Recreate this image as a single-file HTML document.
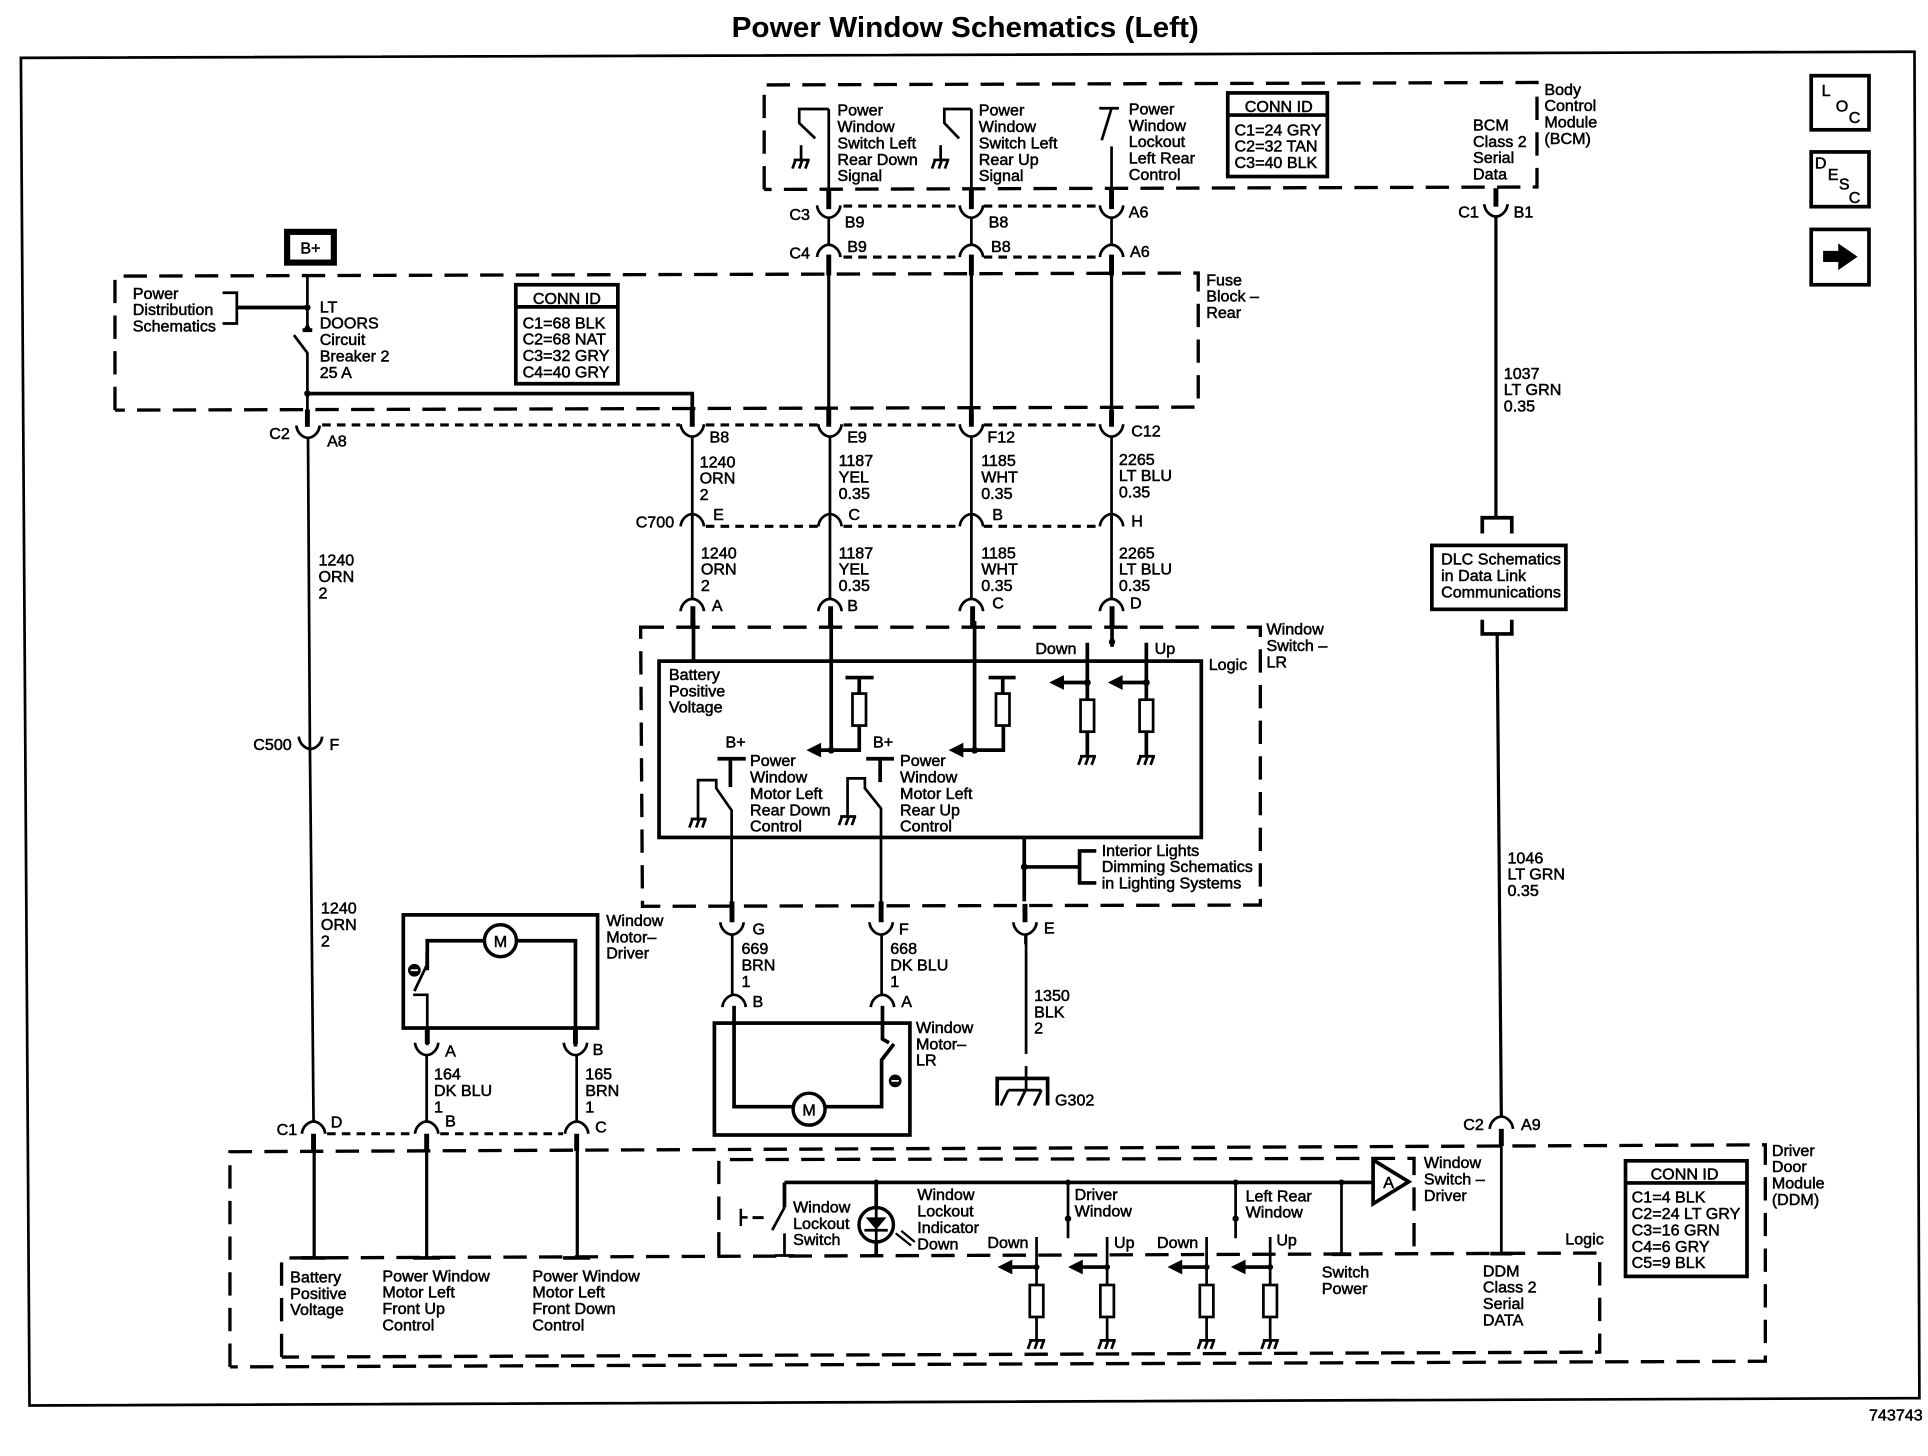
<!DOCTYPE html>
<html><head><meta charset="utf-8"><title>Power Window Schematics (Left)</title>
<style>
html,body{margin:0;padding:0;background:#fff}
svg{display:block}
text{font-family:"Liberation Sans",Arial,sans-serif;font-size:13.1px;fill:#000;stroke:#000;stroke-width:.42}
.w{fill:none;stroke:#000;stroke-width:2.2}
.a{fill:none;stroke:#000;stroke-width:2.6}
.t{fill:none;stroke:#000;stroke-width:3}
.d{fill:none;stroke:#000;stroke-width:2.7;stroke-dasharray:19 10}
.o{fill:none;stroke:#000;stroke-width:2.5;stroke-dasharray:7 5}
.r{fill:#fff;stroke:#000;stroke-width:2.2}
</style></head><body>
<svg xmlns="http://www.w3.org/2000/svg" width="1928" height="1456" viewBox="0 0 1568 1184">
<defs>
<g id="u"><path class="w" d="M-9.5 -10C-9 -4 -4 0 0 0C4 0 9 -4 9.5 -10"/></g>
<g id="n"><path class="w" d="M-9.5 10C-9 4 -4 0 0 0C4 0 9 4 9.5 10"/></g>
<g id="g"><path class="w" d="M-6 0H7M-7 7L-4.5 0M-1.5 7L1 0M3.5 7L6 0"/></g>
<g id="res"><rect class="r" x="-5.5" y="0" width="11" height="26"/></g>
<g id="al"><path d="M0 0L12 -6V6Z"/></g>
</defs>
<rect width="1568" height="1184" fill="#fff"/>
<text x="595" y="30" font-weight="700" textLength="380" lengthAdjust="spacingAndGlyphs" style="font-size:23.5px;font-weight:700;stroke:none">Power Window Schematics (Left)</text>
<path class="w" d="M17 47L1557 42L1561 1137L24 1143Z"/>

<!-- dashed module boxes -->
<path class="d" d="M621.5 154V69L1250 67V152L621.5 154"/>
<path class="d" d="M93.5 333.5V224.5L974.5 222V331L93.5 333.5"/>
<path class="d" d="M521 510H1025V736L522.5 737Z"/>
<path class="d" d="M187 1111.6V936.6L1435.7 931V1107L187 1111.6"/>
<path class="d" d="M229 1103.6V1023L1301 1019V1099.6L229 1103.6"/>
<path class="d" d="M584.6 1021V943L1150 942V1020.6"/>

<!-- BCM switches -->
<path class="w" d="M674 88.6H650V100L663 112.5"/>
<path class="w" d="M651.5 118V130"/><use href="#g" x="651.5" y="130"/>
<path class="w" d="M790 88.6H768V100L780 112.5"/>
<path class="w" d="M765 118V130"/><use href="#g" x="765" y="130"/>
<path class="w" d="M894 88H910M904 88L896 114"/>
<path class="w" d="M674 88.6V168M790 88.6V168M904 119V168M674 177V199M790 177V199M904 177V199"/>
<path class="t" stroke-width="4" style="stroke-width:4" d="M674 153V170M790 153V170M904 153V170"/>
<use href="#u" x="674" y="177"/><use href="#u" x="790" y="177"/><use href="#u" x="904" y="177"/>
<use href="#n" x="674" y="199"/><use href="#n" x="790" y="199"/><use href="#n" x="904" y="199"/>
<path class="o" d="M686 167.5H780M800 167.5H894M686 209H780M800 209H894"/>
<path class="t" style="stroke-width:4" d="M674 207V224M790 207V224M904 207V224"/>
<path class="a" d="M674 224V335M790 224V335M904 224V335"/>
<path class="t" style="stroke-width:4" d="M674 333V347M790 333V347M904 333V347M563 333V347M250 333V347"/>

<!-- B+ and breaker -->
<rect x="233.5" y="188.5" width="38" height="25" fill="#fff" stroke="#000" stroke-width="5"/>
<text x="252.5" y="206" text-anchor="middle">B+</text>
<path class="w" d="M250 224V268M239 272.4L250 287V347"/>
<path d="M250 262L254 270H246Z"/><path class="w" d="M246 268H254"/>
<path class="w" d="M181 238H192.6V263H181"/><path class="t" d="M192 250H250"/>
<circle cx="250" cy="250" r="2.6"/><circle cx="250" cy="320" r="2.6"/>
<path class="t" d="M250 320H563V345"/>
<path class="w" d="M250.5 355L252 603L253 700L255 912M563 355V423M675 355V423M790 355V423M904 355V423"/>
<use href="#u" x="250.5" y="356"/><use href="#u" x="563" y="355"/><use href="#u" x="675" y="355"/><use href="#u" x="790" y="355"/><use href="#u" x="904" y="355"/>
<path class="o" d="M262 345.5H553M574 345.5H665M686 345.5H780M800 345.5H894"/>

<!-- C700 -->
<use href="#n" x="563" y="418"/><use href="#n" x="675" y="418"/><use href="#n" x="790" y="418"/><use href="#n" x="904" y="418"/>
<path class="o" d="M574 428H665M686 428H780M800 428H894"/>
<path class="w" d="M563 420V488M675 420V488M790 420V488M904 420V488"/>
<use href="#n" x="563" y="487"/><use href="#n" x="675" y="487"/><use href="#n" x="790" y="487"/><use href="#n" x="904" y="487"/>
<path class="t" style="stroke-width:4" d="M563.5 493V510M675.5 493V510M791 493V510M904.4 493V510"/>
<!-- C500 -->
<use href="#u" x="252.5" y="609"/>

<!-- Window Switch LR -->
<rect class="t" x="536" y="537.6" width="441" height="143.4"/>
<path class="t" d="M564 505V537.6M676 505V610M792.6 505V610"/>
<path class="t" d="M904.4 505V526"/><circle cx="904.4" cy="522" r="2.6"/>
<path class="t" d="M884.3 522.7V615M932.3 522.7V615"/>
<path class="t" d="M687.6 551H710.5M698.8 551V564M698.8 590V610H667M804 551H826M815.5 551V564M816 590V610H783"/>
<use href="#res" x="698.8" y="564"/><use href="#res" x="815.5" y="564"/>
<use href="#res" x="884.3" y="569"/><use href="#res" x="932.3" y="569"/>
<use href="#al" x="655.8" y="610"/><use href="#al" x="771.5" y="610"/><use href="#al" x="853.3" y="555"/><use href="#al" x="901" y="555"/>
<path class="t" d="M864 555H884.3M911 555H932.3"/>
<circle cx="676" cy="610" r="2.8"/><circle cx="792.6" cy="610" r="2.8"/><circle cx="884.3" cy="555" r="2.8"/><circle cx="932.3" cy="555" r="2.8"/>
<use href="#g" x="884.3" y="615"/><use href="#g" x="932.3" y="615"/>
<path class="t" d="M583.5 617H606.5M594 617V640M704.5 617H727M715.8 617V636"/>
<path class="w" d="M567.7 667V634.4H582.5V641L595 659V740M689.3 664V633H703.4V641L716.5 657.4V740"/>
<use href="#g" x="567.7" y="666"/><use href="#g" x="689.3" y="664"/>
<path class="t" d="M833 681V733"/><circle cx="833" cy="705" r="2.8"/>
<path class="t" d="M833 705H878M891.6 692H878V718H891.6"/>
<path class="t" style="stroke-width:4" d="M595.3 733V750M716.6 733V750M833.6 735V750"/>
<use href="#u" x="595.3" y="760"/><use href="#u" x="716.6" y="760"/><use href="#u" x="833.6" y="760"/>
<path class="w" d="M595.5 760V810M717 760V810M834 760V768"/>
<path class="w" d="M834.5 760V857M834.5 867V887"/>
<path class="t" d="M811 899V877H852V899"/>
<path class="w" d="M820 886.5H847M820 886.5L814 899M834 886.5L828 899M847 886.5L841 899"/>

<use href="#n" x="597" y="809"/><use href="#n" x="717.7" y="809"/>

<!-- Window Motor LR -->
<rect class="t" x="581" y="832" width="159" height="91"/>
<path class="t" d="M597 818V900H645M671 900H717V862L727 849M717.7 818V845L723 848"/>
<circle cx="658" cy="902" r="13" fill="#fff" stroke="#000" stroke-width="2.8"/>
<text x="658" y="907" text-anchor="middle">M</text>
<circle cx="728" cy="879" r="5.2"/><path stroke="#fff" stroke-width="1.4" d="M725 879H731"/>

<!-- Window Motor Driver -->
<rect class="t" x="328" y="744" width="158" height="92"/>
<path class="t" d="M347.5 789V765H394M420 765H468V851"/>
<path class="w" d="M347 775V785L337 806M336 809H347.5V850"/>
<circle cx="407" cy="765" r="13" fill="#fff" stroke="#000" stroke-width="2.8"/>
<text x="407" y="770" text-anchor="middle">M</text>
<circle cx="337" cy="789" r="5.2"/><path stroke="#fff" stroke-width="1.4" d="M334 789H340"/>
<path class="t" style="stroke-width:4" d="M347.5 836V849M468 836V849"/>
<use href="#u" x="347" y="858"/><use href="#u" x="468" y="858"/>
<path class="w" d="M347 858V912M469 858V912"/>

<!-- C1 row -->
<use href="#n" x="255" y="912"/><use href="#n" x="347" y="912"/><use href="#n" x="469" y="912"/>
<path class="o" d="M266 922H336M358 922H458"/>
<path class="t" style="stroke-width:4" d="M255 922V936M347 922V936M469 922V936"/>
<path class="a" d="M255.5 936V1023M347 936V1023M469.5 936V1023"/>
<path class="t" d="M245 1023H265M336 1023H358M458 1023H480"/>

<!-- Window Switch Driver inner -->
<path class="t" d="M638 961.6H1116.7M638 961.6V982"/>
<path class="w" d="M638 982L628 1000.4M638 1003V1021M630 1021H646"/>
<path d="M601.5 983h2v14h-2zM603 989h5v2h-5zM612 989h9v2.4h-9z"/>
<circle cx="712.6" cy="961.6" r="2.4"/><circle cx="868.6" cy="961.6" r="2.4"/><circle cx="1004.9" cy="961.6" r="2.4"/><circle cx="1091" cy="961.6" r="2.4"/>
<path class="t" d="M712.6 961.6V1021"/>
<circle cx="712.6" cy="996" r="14" fill="#fff" stroke="#000" stroke-width="2.8"/>
<path class="w" d="M712.6 982V1010M703 1000.5H722"/><path d="M704 990H721L712.6 1000Z"/>
<path class="w" style="stroke-width:1.8" d="M728.5 1003L741 1013M733 1001L744 1010"/>
<path class="w" d="M868.6 961.6V1007M1004.9 961.6V1007M1091 961.6V1020"/>
<circle cx="868.6" cy="991" r="2.6"/><circle cx="1004.9" cy="991" r="2.6"/>
<path d="M1116.7 943.3L1145.7 961L1116.7 979Z" fill="#fff" stroke="#000" stroke-width="3"/>
<text x="1125" y="966">A</text>
<path class="t" d="M1083 1020H1099"/>

<!-- Down/Up lower -->
<path class="w" d="M843 1006V1090M900.4 1006V1090M981.3 1006V1090M1033 1006V1090"/>
<use href="#res" x="843" y="1045"/><use href="#res" x="900.4" y="1045"/><use href="#res" x="981.3" y="1045"/><use href="#res" x="1033" y="1045"/>
<use href="#g" x="843" y="1090"/><use href="#g" x="900.4" y="1090"/><use href="#g" x="981.3" y="1090"/><use href="#g" x="1033" y="1090"/>
<path class="t" d="M820 1030.4H843M878 1030.4H900.4M959 1030.4H981.3M1011 1030.4H1033"/>
<use href="#al" x="811.3" y="1030.4"/><use href="#al" x="868.6" y="1030.4"/><use href="#al" x="949.5" y="1030.4"/><use href="#al" x="1001" y="1030.4"/>
<circle cx="843" cy="1030.4" r="2.4"/><circle cx="900.4" cy="1030.4" r="2.4"/><circle cx="981.3" cy="1030.4" r="2.4"/><circle cx="1033" cy="1030.4" r="2.4"/>

<!-- BCM data wire -->
<path class="t" style="stroke-width:4" d="M1216.6 153V168"/>
<use href="#u" x="1216.6" y="176"/>
<path class="a" d="M1216.6 176V421"/>
<path class="t" d="M1205.5 433.8V421H1229.5V433.8"/>
<rect class="t" x="1164.5" y="443.5" width="109" height="52"/>
<path class="t" d="M1205.5 504V515.5H1229.5V504"/>
<path class="a" d="M1217.6 515.5L1221 908"/>
<use href="#n" x="1221" y="908"/>
<path class="t" style="stroke-width:4" d="M1221 918V932"/>
<path class="w" d="M1221 932V1019"/>
<path class="t" d="M1212 1019.5H1230"/>

<!-- Conn ID tables -->
<rect class="t" x="419.5" y="231.5" width="83" height="80.5" fill="#fff"/><path class="t" d="M419.5 249.5H502.5"/>
<rect class="t" x="998.5" y="75.5" width="81" height="68"/><path class="t" d="M998.5 93.5H1079.5"/>
<rect class="t" x="1322" y="944" width="98.8" height="94"/><path class="t" d="M1322 962H1420.8"/>

<!-- nav icons -->
<rect class="t" x="1473" y="61.5" width="47" height="44"/>
<rect class="t" x="1473" y="123.5" width="47" height="44.5"/>
<rect class="t" x="1473" y="186.5" width="47" height="45"/>
<path d="M1482.7 204H1495V197.9L1510.7 208.7L1495 219.6V213H1482.7Z"/>
<text x="1481.5" y="78">L</text><text x="1493" y="90.5">O</text><text x="1503.5" y="100">C</text>
<text x="1476" y="137">D</text><text x="1486.5" y="146.5">E</text><text x="1495.5" y="154">S</text><text x="1503.5" y="165">C</text>

<!-- Text -->
<text><tspan x="681" y="94">Power</tspan><tspan x="681" y="107.3">Window</tspan><tspan x="681" y="120.6">Switch Left</tspan><tspan x="681" y="134">Rear Down</tspan><tspan x="681" y="147.3">Signal</tspan></text>
<text><tspan x="796" y="94">Power</tspan><tspan x="796" y="107.3">Window</tspan><tspan x="796" y="120.6">Switch Left</tspan><tspan x="796" y="134">Rear Up</tspan><tspan x="796" y="147.3">Signal</tspan></text>
<text><tspan x="918" y="93">Power</tspan><tspan x="918" y="106.3">Window</tspan><tspan x="918" y="119.6">Lockout</tspan><tspan x="918" y="133">Left Rear</tspan><tspan x="918" y="146.3">Control</tspan></text>
<text><tspan x="1198" y="106">BCM</tspan><tspan x="1198" y="119.3">Class 2</tspan><tspan x="1198" y="132.6">Serial</tspan><tspan x="1198" y="146">Data</tspan></text>
<text><tspan x="1256" y="77">Body</tspan><tspan x="1256" y="90.3">Control</tspan><tspan x="1256" y="103.6">Module</tspan><tspan x="1256" y="117">(BCM)</tspan></text>
<text x="1040" y="91" text-anchor="middle">CONN ID</text>
<text><tspan x="1004" y="110">C1=24 GRY</tspan><tspan x="1004" y="123.3">C2=32 TAN</tspan><tspan x="1004" y="136.6">C3=40 BLK</tspan></text>
<text><tspan x="108" y="243">Power</tspan><tspan x="108" y="256.3">Distribution</tspan><tspan x="108" y="269.6">Schematics</tspan></text>
<text><tspan x="260" y="254">LT</tspan><tspan x="260" y="267.3">DOORS</tspan><tspan x="260" y="280.6">Circuit</tspan><tspan x="260" y="294">Breaker 2</tspan><tspan x="260" y="307.3">25 A</tspan></text>
<text x="461" y="247" text-anchor="middle">CONN ID</text>
<text><tspan x="425" y="267">C1=68 BLK</tspan><tspan x="425" y="280.3">C2=68 NAT</tspan><tspan x="425" y="293.6">C3=32 GRY</tspan><tspan x="425" y="307">C4=40 GRY</tspan></text>
<text><tspan x="981" y="232">Fuse</tspan><tspan x="981" y="245.3">Block –</tspan><tspan x="981" y="258.6">Rear</tspan></text>
<text x="642" y="179">C3</text><text x="687" y="185">B9</text><text x="804" y="185">B8</text><text x="918" y="177">A6</text>
<text x="642" y="210">C4</text><text x="689" y="205">B9</text><text x="806" y="205">B8</text><text x="919" y="209">A6</text>
<text x="219" y="357">C2</text><text x="266" y="363">A8</text><text x="577" y="360">B8</text><text x="689" y="360">E9</text><text x="803" y="360">F12</text><text x="920" y="355">C12</text>
<text x="517" y="429">C700</text><text x="580" y="423">E</text><text x="690" y="423">C</text><text x="807" y="423">B</text><text x="920" y="428">H</text>
<text x="579" y="497">A</text><text x="689" y="497">B</text><text x="807" y="495">C</text><text x="919" y="495">D</text>
<text x="206" y="610">C500</text><text x="268" y="610">F</text>
<text x="1186" y="177">C1</text><text x="1231" y="177">B1</text>
<text x="1190" y="919">C2</text><text x="1237" y="919">A9</text>
<text x="612" y="760">G</text><text x="731" y="760">F</text><text x="849" y="759">E</text>
<text x="612" y="819">B</text><text x="733" y="819">A</text>
<text x="362" y="859">A</text><text x="482" y="858">B</text>
<text x="225" y="923">C1</text><text x="269" y="917">D</text><text x="362" y="916">B</text><text x="484" y="921">C</text>

<text><tspan x="569" y="380">1240</tspan><tspan x="569" y="393.3">ORN</tspan><tspan x="569" y="406.6">2</tspan></text>
<text><tspan x="682" y="379">1187</tspan><tspan x="682" y="392.3">YEL</tspan><tspan x="682" y="405.6">0.35</tspan></text>
<text><tspan x="798" y="379">1185</tspan><tspan x="798" y="392.3">WHT</tspan><tspan x="798" y="405.6">0.35</tspan></text>
<text><tspan x="910" y="378">2265</tspan><tspan x="910" y="391.3">LT BLU</tspan><tspan x="910" y="404.6">0.35</tspan></text>
<text><tspan x="570" y="454">1240</tspan><tspan x="570" y="467.3">ORN</tspan><tspan x="570" y="480.6">2</tspan></text>
<text><tspan x="682" y="454">1187</tspan><tspan x="682" y="467.3">YEL</tspan><tspan x="682" y="480.6">0.35</tspan></text>
<text><tspan x="798" y="454">1185</tspan><tspan x="798" y="467.3">WHT</tspan><tspan x="798" y="480.6">0.35</tspan></text>
<text><tspan x="910" y="454">2265</tspan><tspan x="910" y="467.3">LT BLU</tspan><tspan x="910" y="480.6">0.35</tspan></text>
<text><tspan x="259" y="460">1240</tspan><tspan x="259" y="473.3">ORN</tspan><tspan x="259" y="486.6">2</tspan></text>
<text><tspan x="261" y="743">1240</tspan><tspan x="261" y="756.3">ORN</tspan><tspan x="261" y="769.6">2</tspan></text>
<text><tspan x="1223" y="308">1037</tspan><tspan x="1223" y="321.3">LT GRN</tspan><tspan x="1223" y="334.6">0.35</tspan></text>
<text><tspan x="1226" y="702">1046</tspan><tspan x="1226" y="715.3">LT GRN</tspan><tspan x="1226" y="728.6">0.35</tspan></text>
<text><tspan x="1172" y="459">DLC Schematics</tspan><tspan x="1172" y="472.3">in Data Link</tspan><tspan x="1172" y="486">Communications</tspan></text>
<text><tspan x="1030" y="516">Window</tspan><tspan x="1030" y="529.3">Switch –</tspan><tspan x="1030" y="542.6">LR</tspan></text>
<text x="842" y="532">Down</text><text x="939" y="532">Up</text><text x="983" y="545">Logic</text>
<text><tspan x="544" y="553">Battery</tspan><tspan x="544" y="566.3">Positive</tspan><tspan x="544" y="579.6">Voltage</tspan></text>
<text x="590" y="608">B+</text><text x="710" y="608">B+</text>
<text><tspan x="610" y="623">Power</tspan><tspan x="610" y="636.3">Window</tspan><tspan x="610" y="649.6">Motor Left</tspan><tspan x="610" y="663">Rear Down</tspan><tspan x="610" y="676.3">Control</tspan></text>
<text><tspan x="732" y="623">Power</tspan><tspan x="732" y="636.3">Window</tspan><tspan x="732" y="649.6">Motor Left</tspan><tspan x="732" y="663">Rear Up</tspan><tspan x="732" y="676.3">Control</tspan></text>
<text><tspan x="896" y="696">Interior Lights</tspan><tspan x="896" y="709.3">Dimming Schematics</tspan><tspan x="896" y="722.6">in Lighting Systems</tspan></text>
<text><tspan x="493" y="753">Window</tspan><tspan x="493" y="766.3">Motor–</tspan><tspan x="493" y="779.6">Driver</tspan></text>
<text><tspan x="745" y="840">Window</tspan><tspan x="745" y="853.3">Motor–</tspan><tspan x="745" y="866.6">LR</tspan></text>
<text><tspan x="603" y="776">669</tspan><tspan x="603" y="789.3">BRN</tspan><tspan x="603" y="802.6">1</tspan></text>
<text><tspan x="724" y="776">668</tspan><tspan x="724" y="789.3">DK BLU</tspan><tspan x="724" y="802.6">1</tspan></text>
<text><tspan x="841" y="814">1350</tspan><tspan x="841" y="827.3">BLK</tspan><tspan x="841" y="840.6">2</tspan></text>
<text x="858" y="899">G302</text>
<text><tspan x="353" y="878">164</tspan><tspan x="353" y="891.3">DK BLU</tspan><tspan x="353" y="904.6">1</tspan></text>
<text><tspan x="476" y="878">165</tspan><tspan x="476" y="891.3">BRN</tspan><tspan x="476" y="904.6">1</tspan></text>
<text><tspan x="236" y="1043">Battery</tspan><tspan x="236" y="1056.3">Positive</tspan><tspan x="236" y="1069.6">Voltage</tspan></text>
<text><tspan x="311" y="1042">Power Window</tspan><tspan x="311" y="1055.3">Motor Left</tspan><tspan x="311" y="1068.6">Front Up</tspan><tspan x="311" y="1082">Control</tspan></text>
<text><tspan x="433" y="1042">Power Window</tspan><tspan x="433" y="1055.3">Motor Left</tspan><tspan x="433" y="1068.6">Front Down</tspan><tspan x="433" y="1082">Control</tspan></text>
<text><tspan x="645" y="986">Window</tspan><tspan x="645" y="999.3">Lockout</tspan><tspan x="645" y="1012.6">Switch</tspan></text>
<text><tspan x="746" y="976">Window</tspan><tspan x="746" y="989.3">Lockout</tspan><tspan x="746" y="1002.6">Indicator</tspan><tspan x="746" y="1016">Down</tspan></text>
<text><tspan x="874" y="976">Driver</tspan><tspan x="874" y="989.3">Window</tspan></text>
<text><tspan x="1013" y="977">Left Rear</tspan><tspan x="1013" y="990.3">Window</tspan></text>
<text><tspan x="1158" y="950">Window</tspan><tspan x="1158" y="963.3">Switch –</tspan><tspan x="1158" y="976.6">Driver</tspan></text>
<text x="1273" y="1012">Logic</text>
<text><tspan x="1075" y="1039">Switch</tspan><tspan x="1075" y="1052.3">Power</tspan></text>
<text><tspan x="1206" y="1038">DDM</tspan><tspan x="1206" y="1051.3">Class 2</tspan><tspan x="1206" y="1064.6">Serial</tspan><tspan x="1206" y="1078">DATA</tspan></text>
<text x="803" y="1015">Down</text><text x="906" y="1015">Up</text><text x="941" y="1015">Down</text><text x="1038" y="1013">Up</text>
<text><tspan x="1441" y="940">Driver</tspan><tspan x="1441" y="953.3">Door</tspan><tspan x="1441" y="966.6">Module</tspan><tspan x="1441" y="980">(DDM)</tspan></text>
<text x="1370" y="959" text-anchor="middle">CONN ID</text>
<text><tspan x="1327" y="978">C1=4 BLK</tspan><tspan x="1327" y="991.3">C2=24 LT GRY</tspan><tspan x="1327" y="1004.6">C3=16 GRN</tspan><tspan x="1327" y="1018">C4=6 GRY</tspan><tspan x="1327" y="1031.3">C5=9 BLK</tspan></text>
<text x="1520" y="1155">743743</text>
</svg>
</body></html>
